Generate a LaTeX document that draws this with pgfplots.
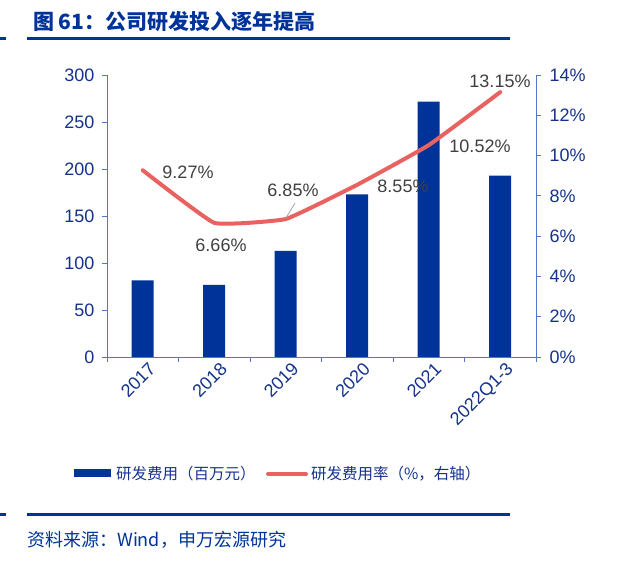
\documentclass[border=0pt]{standalone}
\usepackage{pgfplots}
\pgfplotsset{compat=1.18}
\usepackage{fontspec}
\setmainfont{Liberation Sans}
\newfontfamily\cjk{Noto Sans CJK SC}
\definecolor{barblue}{RGB}{0,51,153}
\definecolor{linered}{RGB}{232,98,96}
\definecolor{axisblue}{RGB}{80,120,200}
\definecolor{ticktext}{RGB}{20,50,140}
\definecolor{labgray}{RGB}{64,64,64}
\definecolor{titleblue}{RGB}{0,51,153}
\begin{document}
\begin{tikzpicture}
\useasboundingbox (0,0) rectangle (618bp,562bp);
% title
\node[anchor=west, inner sep=0, text=titleblue, font=\cjk\bfseries\fontsize{21bp}{24bp}\selectfont] at (33bp,540bp) {图 61：公司研发投入逐年提高};
\fill[titleblue] (0bp,521.5bp) rectangle (6bp,524.5bp);
\fill[titleblue] (27bp,521.5bp) rectangle (510bp,524.5bp);

\begin{axis}[at={(107bp,205bp)}, anchor=south west, scale only axis,
  width=429bp, height=282bp,
  xmin=-0.5, xmax=5.5, ymin=0, ymax=300,
  axis x line*=bottom, axis y line*=left,
  axis line style={axisblue, line width=0.9bp, -},
  every tick/.style={axisblue, line width=0.9bp},
  tick align=outside, major tick length=5bp,
  ytick={0,50,...,300},
  yticklabel style={xshift=-4bp},
  xtick={-0.5,0.5,...,5.5}, xticklabels={},
  extra x ticks={0,1,2,3,4,5},
  extra x tick labels={2017,2018,2019,2020,2021,2022Q1-3},
  extra x tick style={major tick length=0pt, xticklabel style={rotate=45, anchor=north east, xshift=4bp, yshift=-3bp}},
  ticklabel style={font=\fontsize{18bp}{20bp}\selectfont, text=ticktext},
  /pgf/number format/assume math mode=true,
  clip=false,
]
\addplot[ybar, bar width=22bp, fill=barblue, draw=none] coordinates {(0,81.5)(1,76.6)(2,113)(3,173)(4,271.6)(5,193)};
\end{axis}

\begin{axis}[at={(107bp,205bp)}, anchor=south west, scale only axis,
  width=429bp, height=282bp,
  xmin=-0.5, xmax=5.5, ymin=0, ymax=14,
  axis y line*=right, axis x line=none,
  axis line style={axisblue, line width=0.9bp, -},
  every tick/.style={axisblue, line width=0.9bp},
  tick align=outside, major tick length=5bp,
  ytick={0,2,...,14},
  yticklabel={\pgfmathprintnumber{\tick}\%},
  yticklabel style={xshift=5bp},
  ticklabel style={font=\fontsize{18bp}{20bp}\selectfont, text=ticktext},
  /pgf/number format/assume math mode=true,
  clip=false,
]
\addplot[linered, line width=4bp, line cap=round, line join=round, smooth, tension=0.2] coordinates {(0,9.27)(1,6.66)(2,6.85)(3,8.55)(4,10.52)(5,13.15)};
\end{axis}

% data labels
\begin{scope}[every node/.style={text=labgray, font=\fontsize{18bp}{20bp}\selectfont, inner sep=0}]
\node at (188bp,390bp) {9.27\%};
\node at (221bp,317bp) {6.66\%};
\node at (293bp,372bp) {6.85\%};
\node at (403bp,376bp) {8.55\%};
\node at (480bp,416bp) {10.52\%};
\node at (500bp,481bp) {13.15\%};
\end{scope}
\draw[gray!70, line width=0.8bp] (295bp,359bp) -- (286bp,344bp);

% legend
\fill[barblue] (74bp,84.5bp) rectangle (111bp,92.5bp);
\node[anchor=west, inner sep=0, text=ticktext, font=\cjk\fontsize{15.5bp}{17bp}\selectfont] at (116bp,88bp) {研发费用（百万元）};
\draw[linered, line width=4bp, line cap=round] (268bp,88bp) -- (306bp,88bp);
\node[anchor=west, inner sep=0, text=ticktext, font=\cjk\fontsize{15.5bp}{17bp}\selectfont] at (311bp,88bp) {研发费用率（\%，右轴）};

% bottom
\fill[titleblue] (0bp,45.5bp) rectangle (6bp,48.5bp);
\fill[titleblue] (27bp,45.5bp) rectangle (510bp,48.5bp);
\node[anchor=west, inner sep=0, text=titleblue, font=\cjk\fontsize{18bp}{20bp}\selectfont] at (27bp,22bp) {资料来源：Wind，申万宏源研究};
\end{tikzpicture}
\end{document}
